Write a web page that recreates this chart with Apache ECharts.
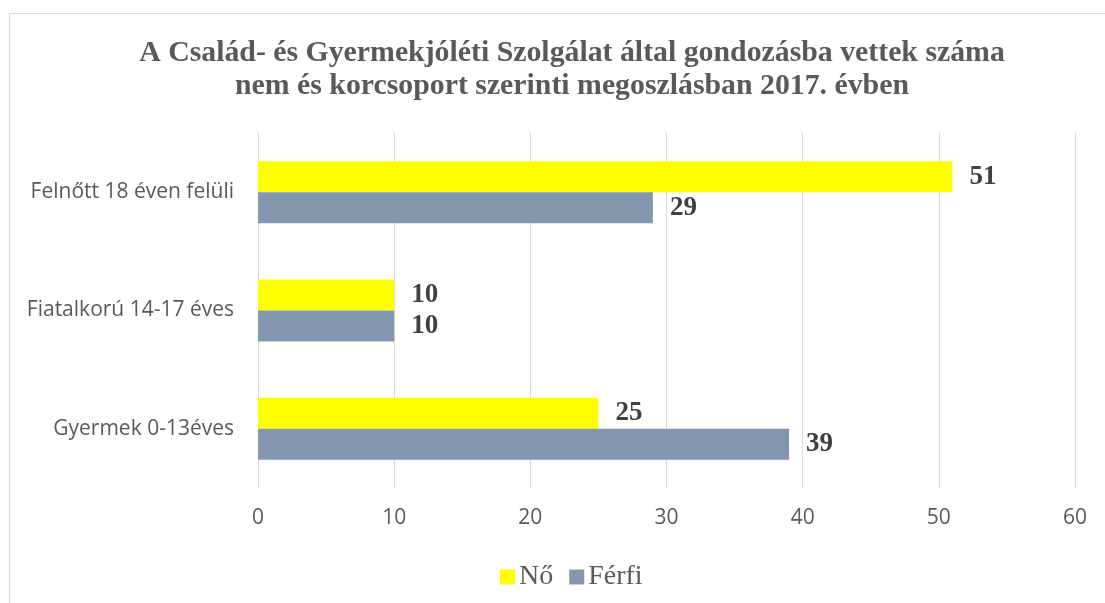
<!DOCTYPE html>
<html>
<head>
<meta charset="utf-8">
<script src="https://cdn.jsdelivr.net/npm/echarts@6/dist/echarts.min.js"></script>
<style>
  html, body { margin: 0; padding: 0; background: #fff; }
  #chartBox { width: 1105px; height: 603px; }
</style>
</head>
<body>
<div id="chartBox"></div>
<script>
// kategóriák (felülről lefelé)
var categories = ['Felnőtt 18 éven felüli', 'Fiatalkorú 14-17 éves', 'Gyermek 0-13éves'];
var seriesNames = ['Nő', 'Férfi'];
var noData = [51, 10, 25];
var ferfiData = [29, 10, 39];
var xTicks = [0, 10, 20, 30, 40, 50, 60];

var chart = echarts.init(document.getElementById('chartBox'));

var valueLabel = {
  show: true,
  position: 'right',
  distance: 17,
  color: '#404040',
  fontFamily: 'Liberation Serif',
  fontWeight: 'bold',
  fontSize: 27
};

var option = {
  animation: false,
  backgroundColor: '#fff',
  title: {
    text: 'A Család- és Gyermekjóléti Szolgálat által gondozásba vettek száma\nnem és korcsoport szerinti megoszlásban 2017. évben',
    left: 567,
    top: 32,
    textAlign: 'center',
    textStyle: {
      fontFamily: 'Liberation Serif',
      fontWeight: 'bold',
      fontSize: 29.8,
      lineHeight: 33,
      color: '#595959'
    }
  },
  graphic: [{
    type: 'rect',
    shape: { x: 9.5, y: 13.5, width: 1200, height: 700 },
    style: { fill: 'none', stroke: '#d9d9d9', lineWidth: 1 },
    silent: true
  }],
  legend: {
    data: seriesNames,
    left: 495,
    top: 558,
    itemWidth: 15,
    itemHeight: 15,
    itemGap: 16,
    icon: 'rect',
    textStyle: {
      fontFamily: 'Liberation Serif',
      fontSize: 28,
      color: '#595959',
      padding: [0, 0, 0, -1]
    }
  },
  grid: {
    left: 258,
    right: 30,
    top: 133,
    bottom: 115
  },
  xAxis: {
    type: 'value',
    min: xTicks[0],
    max: xTicks[xTicks.length - 1],
    interval: 10,
    axisLine: { show: false },
    axisTick: { show: false },
    axisLabel: {
      margin: 20,
      color: '#595959',
      fontFamily: 'Open Sans',
      fontSize: 21
    },
    splitLine: { lineStyle: { color: '#d9d9d9', width: 1 } }
  },
  yAxis: {
    type: 'category',
    inverse: true,
    data: categories,
    axisLine: { show: false },
    axisTick: { show: false },
    axisLabel: {
      margin: 24,
      color: '#595959',
      fontFamily: 'Open Sans',
      fontSize: 21
    }
  },
  series: [
    {
      name: seriesNames[0],
      type: 'bar',
      data: noData,
      barWidth: 31,
      barGap: '0%',
      itemStyle: { color: '#ffff00' },
      label: valueLabel
    },
    {
      name: seriesNames[1],
      type: 'bar',
      data: ferfiData,
      barWidth: 31,
      barGap: '0%',
      itemStyle: { color: '#8497b0' },
      label: valueLabel
    }
  ]
};

chart.setOption(option);
</script>
</body>
</html>
